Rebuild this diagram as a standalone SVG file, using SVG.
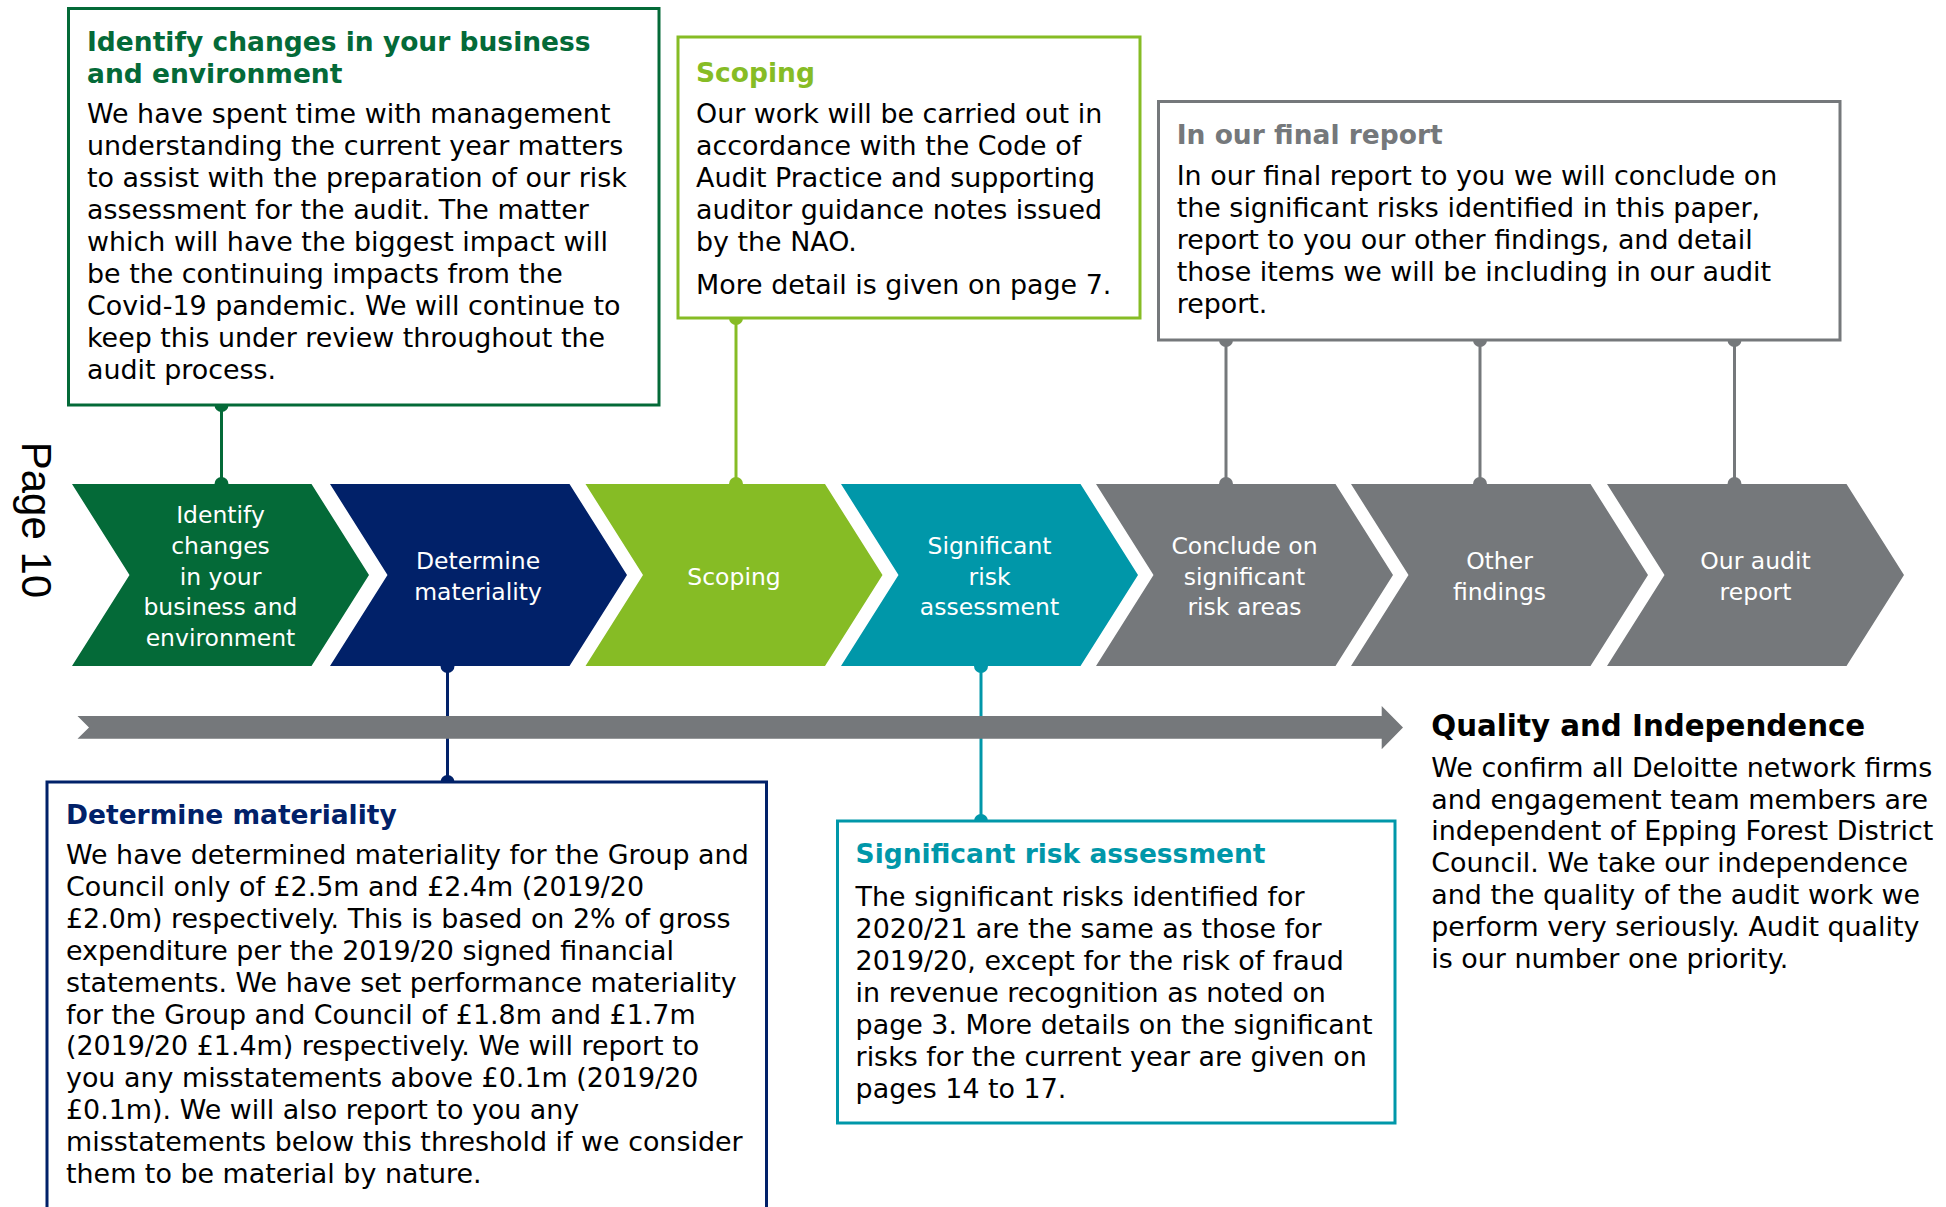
<svg xmlns="http://www.w3.org/2000/svg" width="1946" height="1207" viewBox="0 0 1946 1207">
<style>
.box{fill:#fff;stroke-width:3}
.t{font-family:"DejaVu Sans",Verdana,sans-serif;font-size:26.5px;font-weight:bold}
.b{font-family:"DejaVu Sans",Verdana,sans-serif;font-size:26.9px;fill:#000}
.c{font-family:"DejaVu Sans",Verdana,sans-serif;font-size:23.5px;fill:#fff;text-anchor:middle}
.ln{stroke-width:3;fill:none}
.green{fill:#046A38}.navy{fill:#012169}.lime{fill:#86BC25}.teal{fill:#0097A9}.gray{fill:#75787B}
</style>
<rect width="1946" height="1207" fill="#fff"/>
<text transform="translate(21.7,441.7) rotate(90)" font-family="Liberation Sans,Arial,sans-serif" font-size="42" fill="#000">Page 10</text>

<g id="connectors">
<line class="ln" x1="221.5" y1="405" x2="221.5" y2="484" stroke="#046A38"/>
<circle cx="221.5" cy="405" r="7" fill="#046A38"/><circle cx="221.5" cy="484" r="7" fill="#046A38"/>
<line class="ln" x1="736" y1="318" x2="736" y2="484" stroke="#86BC25"/>
<circle cx="736" cy="318" r="7" fill="#86BC25"/><circle cx="736" cy="484" r="7" fill="#86BC25"/>
<line class="ln" x1="447.5" y1="666" x2="447.5" y2="782" stroke="#012169"/>
<circle cx="447.5" cy="666" r="7" fill="#012169"/><circle cx="447.5" cy="782" r="7" fill="#012169"/>
<line class="ln" x1="981" y1="666" x2="981" y2="821" stroke="#0097A9"/>
<circle cx="981" cy="666" r="7" fill="#0097A9"/><circle cx="981" cy="821" r="7" fill="#0097A9"/>
<line class="ln" x1="1226" y1="340" x2="1226" y2="484" stroke="#75787B"/>
<circle cx="1226" cy="340" r="7" fill="#75787B"/><circle cx="1226" cy="484" r="7" fill="#75787B"/>
<line class="ln" x1="1480" y1="340" x2="1480" y2="484" stroke="#75787B"/>
<circle cx="1480" cy="340" r="7" fill="#75787B"/><circle cx="1480" cy="484" r="7" fill="#75787B"/>
<line class="ln" x1="1734.5" y1="340" x2="1734.5" y2="484" stroke="#75787B"/>
<circle cx="1734.5" cy="340" r="7" fill="#75787B"/><circle cx="1734.5" cy="484" r="7" fill="#75787B"/>
<polygon class="gray" points="77.5,716 1381.7,716 1381.7,706 1403,727.5 1381.7,749.3 1381.7,738.8 77.5,738.8 89,727.5"/>
</g>

<g id="chev1">
<polygon class="green" points="72,484 311.5,484 369,575 311.5,666 72,666 129.5,575"/>
<text class="c"><tspan x="220.5" y="523">Identify</tspan><tspan x="220.5" y="553.7">changes</tspan><tspan x="220.5" y="584.5">in your</tspan><tspan x="220.5" y="615.3">business and</tspan><tspan x="220.5" y="646.1">environment</tspan></text>
</g>
<g id="chev2">
<polygon class="navy" points="330,484 569.5,484 627,575 569.5,666 330,666 387.5,575"/>
<text class="c"><tspan x="478" y="568.6">Determine</tspan><tspan x="478" y="599.6">materiality</tspan></text>
</g>
<g id="chev3">
<polygon class="lime" points="585.5,484 825,484 882.5,575 825,666 585.5,666 643,575"/>
<text class="c" x="734" y="585.3">Scoping</text>
</g>
<g id="chev4">
<polygon class="teal" points="841,484 1080.5,484 1138,575 1080.5,666 841,666 898.5,575"/>
<text class="c"><tspan x="989.5" y="553.7">Significant</tspan><tspan x="989.5" y="584.5">risk</tspan><tspan x="989.5" y="615.3">assessment</tspan></text>
</g>
<g id="chev5">
<polygon class="gray" points="1096,484 1335.5,484 1393,575 1335.5,666 1096,666 1153.5,575"/>
<text class="c"><tspan x="1244.5" y="553.7">Conclude on</tspan><tspan x="1244.5" y="584.5">significant</tspan><tspan x="1244.5" y="615.3">risk areas</tspan></text>
</g>
<g id="chev6">
<polygon class="gray" points="1351,484 1590.5,484 1648,575 1590.5,666 1351,666 1408.5,575"/>
<text class="c"><tspan x="1499.5" y="568.6">Other</tspan><tspan x="1499.5" y="599.6">findings</tspan></text>
</g>
<g id="chev7">
<polygon class="gray" points="1607,484 1846.5,484 1904,575 1846.5,666 1607,666 1664.5,575"/>
<text class="c"><tspan x="1755.5" y="568.6">Our audit</tspan><tspan x="1755.5" y="599.6">report</tspan></text>
</g>

<g id="box-identify">
<rect class="box" x="68.5" y="8.5" width="590.5" height="396.5" stroke="#046A38"/>
<text class="t" fill="#046A38"><tspan x="87" y="51.2">Identify changes in your business</tspan><tspan x="87" y="82.8">and environment</tspan></text>
<text class="b"><tspan x="87" y="122.7">We have spent time with management</tspan><tspan x="87" y="154.8">understanding the current year matters</tspan><tspan x="87" y="186.9">to assist with the preparation of our risk</tspan><tspan x="87" y="219">assessment for the audit. The matter</tspan><tspan x="87" y="251.1">which will have the biggest impact will</tspan><tspan x="87" y="283.2">be the continuing impacts from the</tspan><tspan x="87" y="315.3">Covid-19 pandemic. We will continue to</tspan><tspan x="87" y="347.4">keep this under review throughout the</tspan><tspan x="87" y="379.4">audit process.</tspan></text>
</g>

<g id="box-scoping">
<rect class="box" x="678" y="37" width="462" height="281" stroke="#86BC25"/>
<text class="t" fill="#86BC25" x="696" y="81.8">Scoping</text>
<text class="b"><tspan x="696" y="122.7">Our work will be carried out in</tspan><tspan x="696" y="154.7">accordance with the Code of</tspan><tspan x="696" y="186.7">Audit Practice and supporting</tspan><tspan x="696" y="218.7">auditor guidance notes issued</tspan><tspan x="696" y="250.7">by the NAO.</tspan><tspan x="696" y="293.7">More detail is given on page 7.</tspan></text>
</g>

<g id="box-final">
<rect class="box" x="1158.5" y="101.5" width="681.5" height="238.5" stroke="#75787B"/>
<text class="t" fill="#75787B" x="1176.7" y="144.2">In our final report</text>
<text class="b"><tspan x="1176.7" y="185">In our final report to you we will conclude on</tspan><tspan x="1176.7" y="217">the significant risks identified in this paper,</tspan><tspan x="1176.7" y="249">report to you our other findings, and detail</tspan><tspan x="1176.7" y="281">those items we will be including in our audit</tspan><tspan x="1176.7" y="313">report.</tspan></text>
</g>

<g id="box-materiality">
<rect class="box" x="47" y="782" width="719.5" height="440" stroke="#012169"/>
<text class="t" fill="#012169" x="66" y="824.2">Determine materiality</text>
<text class="b"><tspan x="66" y="864.3">We have determined materiality for the Group and</tspan><tspan x="66" y="896.1">Council only of £2.5m and £2.4m (2019/20</tspan><tspan x="66" y="928">£2.0m) respectively. This is based on 2% of gross</tspan><tspan x="66" y="959.8">expenditure per the 2019/20 signed financial</tspan><tspan x="66" y="991.7">statements. We have set performance materiality</tspan><tspan x="66" y="1023.5">for the Group and Council of £1.8m and £1.7m</tspan><tspan x="66" y="1055.4">(2019/20 £1.4m) respectively. We will report to</tspan><tspan x="66" y="1087.2">you any misstatements above £0.1m (2019/20</tspan><tspan x="66" y="1119">£0.1m). We will also report to you any</tspan><tspan x="66" y="1150.9">misstatements below this threshold if we consider</tspan><tspan x="66" y="1182.7">them to be material by nature.</tspan></text>
</g>

<g id="box-significant">
<rect class="box" x="837.5" y="821" width="557.5" height="302" stroke="#0097A9"/>
<text class="t" fill="#0097A9" x="855.6" y="863.2">Significant risk assessment</text>
<text class="b"><tspan x="855.6" y="906">The significant risks identified for</tspan><tspan x="855.6" y="938">2020/21 are the same as those for</tspan><tspan x="855.6" y="970">2019/20, except for the risk of fraud</tspan><tspan x="855.6" y="1002">in revenue recognition as noted on</tspan><tspan x="855.6" y="1034">page 3. More details on the significant</tspan><tspan x="855.6" y="1066">risks for the current year are given on</tspan><tspan x="855.6" y="1097.8">pages 14 to 17.</tspan></text>
</g>

<g id="quality">
<text font-family="DejaVu Sans,Verdana,sans-serif" font-size="29.3" font-weight="bold" fill="#000" x="1431.3" y="735.8">Quality and Independence</text>
<text class="b"><tspan x="1431.3" y="776.7">We confirm all Deloitte network firms</tspan><tspan x="1431.3" y="808.5">and engagement team members are</tspan><tspan x="1431.3" y="840.3">independent of Epping Forest District</tspan><tspan x="1431.3" y="872.1">Council. We take our independence</tspan><tspan x="1431.3" y="904">and the quality of the audit work we</tspan><tspan x="1431.3" y="935.8">perform very seriously. Audit quality</tspan><tspan x="1431.3" y="967.7">is our number one priority.</tspan></text>
</g>
</svg>
